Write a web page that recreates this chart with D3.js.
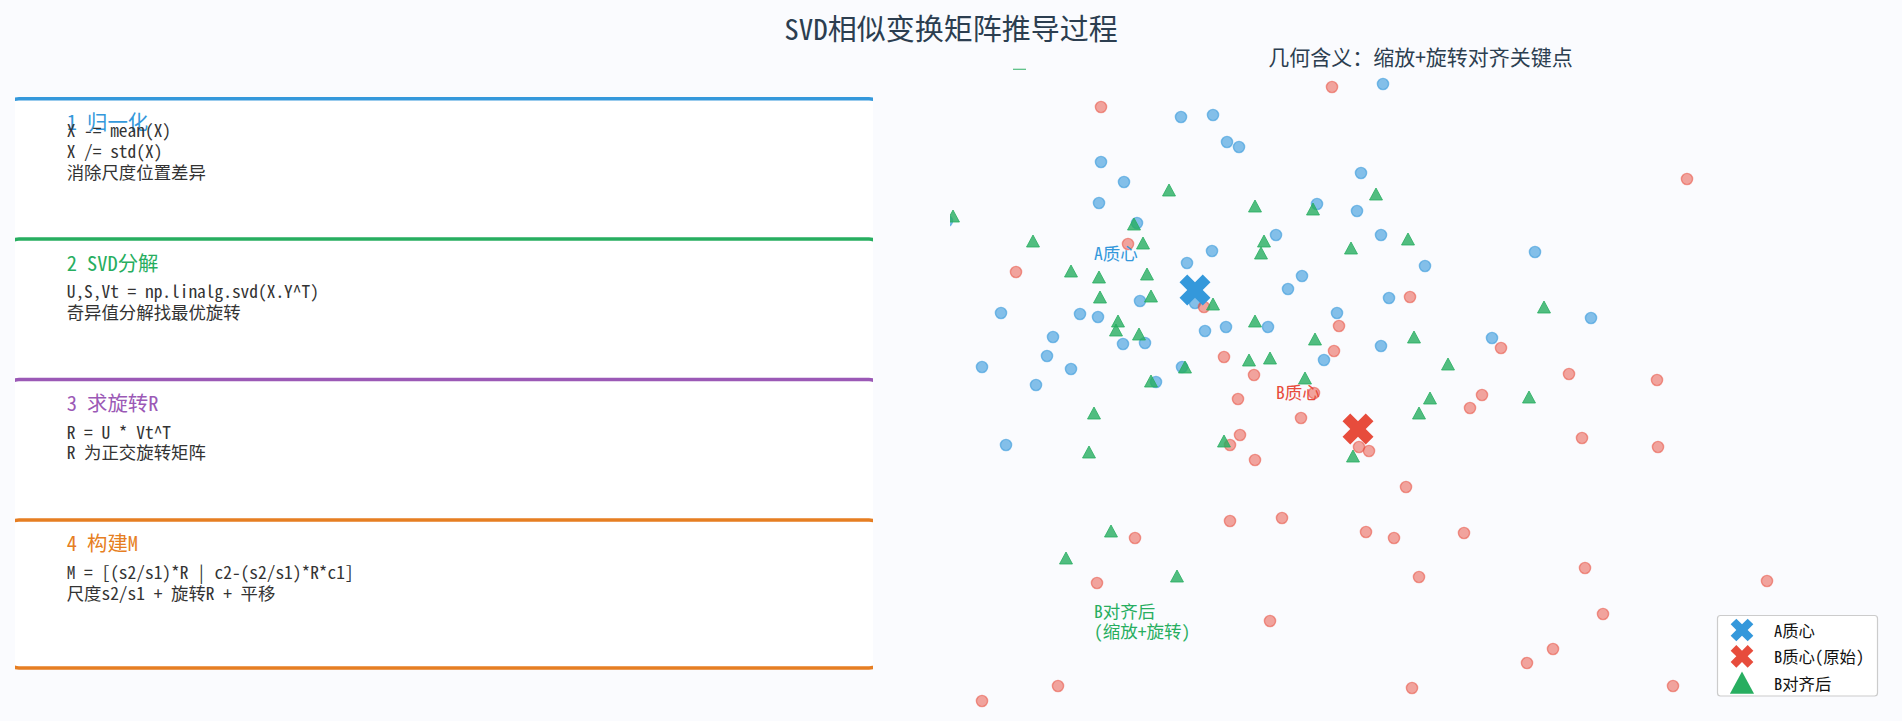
<!DOCTYPE html>
<html><head><meta charset="utf-8">
<script src="https://cdn.jsdelivr.net/npm/d3@7"></script>
<style>
html,body{margin:0;padding:0;background:#fafbfe;}
svg{display:block;}
text{font-family:"Noto Sans Mono CJK SC","Noto Sans CJK SC","DejaVu Sans Mono",monospace;}
</style></head><body>
<svg id="chart" width="1902" height="721"></svg>
<script>
// ---------- data ----------
const chartTitle = "SVD相似变换矩阵推导过程";
const subTitle = "几何含义：缩放+旋转对齐关键点";
const stepTitles = ["1 归一化", "2 SVD分解", "3 求旋转R", "4 构建M"];
const stepColors = ["#3498db", "#27ae60", "#9b59b6", "#e67e22"];
const stepLines = [
  ["X -= mean(X)", "X /= std(X)", "消除尺度位置差异"],
  ["U,S,Vt = np.linalg.svd(X.Y^T)", "奇异值分解找最优旋转"],
  ["R = U * Vt^T", "R 为正交旋转矩阵"],
  ["M = [(s2/s1)*R | c2-(s2/s1)*R*c1]", "尺度s2/s1 + 旋转R + 平移"]
];

const pointsA = [
  [-2.34,2.73],[-2.02,2.75],[-1.88,2.48],[-1.76,2.43],[-3.14,2.28],[-2.91,2.08],[-3.16,1.87],[-2.78,1.67],
  [-4.68,1.69],[-2.03,1.39],[-2.28,1.27],[-2.75,0.89],[-4.14,0.77],[-3.35,0.76],[-3.17,0.73],[-2.10,0.59],
  [-1.89,0.63],[-1.47,0.63],[-3.62,0.53],[-2.92,0.46],[-2.70,0.47],[-3.68,0.34],[-4.33,0.23],[-3.44,0.21],
  [-2.33,0.23],[-3.79,0.05],[-2.59,0.08],[-2.20,0.87],[-0.32,3.06],[-0.54,2.17],[-0.98,1.86],[-0.58,1.79],
  [-1.39,1.55],[-0.34,1.55],[1.20,1.38],[0.10,1.24],[-1.13,1.14],[-1.27,1.01],[-0.26,0.92],[-0.78,0.77],
  [0.77,0.52],[-0.34,0.44],[-0.91,0.30],[1.76,0.72],[-4.09,-0.55]
];
const pointsB = [
  [-3.14,2.83],[-2.87,1.46],[-3.99,1.18],[-2.11,0.83],[-1.91,0.33],[-1.61,0.15],[-0.83,3.03],[-0.05,0.93],
  [-0.76,0.64],[-0.81,0.39],[0.86,0.42],[1.54,0.16],[0.67,-0.05],[-1.01,-0.03],[2.72,2.11],[2.42,0.10],
  [-1.77,-0.09],[-1.75,-0.45],[-1.85,-0.55],[-1.60,-0.70],[-1.85,-1.31],[-2.80,-1.48],[-3.18,-1.93],[-3.57,-2.96],
  [-4.33,-3.11],[-1.45,-2.31],[-1.14,-0.28],[0.55,-0.18],[1.67,-0.48],[-0.56,-0.57],[-0.46,-0.61],[-0.09,-0.97],
  [-1.33,-1.28],[-0.49,-1.42],[-0.21,-1.48],[0.49,-1.43],[0.04,-1.87],[1.70,-1.78],[1.38,-2.59],[1.12,-2.73],
  [-0.03,-2.98],[2.43,-0.57],[3.52,-1.91],[1.88,-2.24],[2.58,-2.96]
];
const pointsBAligned = [
  [-4.62,1.74],[-2.46,2.00],[-1.60,1.84],[-2.81,1.66],[-3.82,1.49],[-2.72,1.47],[-1.51,1.49],[-1.54,1.37],
  [-3.44,1.19],[-3.16,1.13],[-2.68,1.16],[-3.15,0.93],[-2.64,0.94],[-2.02,0.86],[-2.97,0.69],[-2.99,0.60],
  [-2.76,0.56],[-1.60,0.69],[-1.66,0.30],[-2.30,0.23],[-2.64,0.09],[-1.45,0.32],[-0.39,1.96],[-1.02,1.81],
  [-0.07,1.51],[-0.64,1.42],[1.29,0.83],[-1.00,0.51],[-0.01,0.53],[0.33,0.26],[-1.10,0.12],[-3.21,-0.23],
  [-3.26,-0.62],[-1.91,-0.51],[-3.04,-1.41],[-3.49,-1.68],[-2.38,-1.86],[0.15,-0.08],[0.04,-0.23],[1.14,-0.07],
  [-0.62,-0.66]
];
const centroidA = [-2.20, 1.00];
const centroidB = [-0.57, -0.39];
const annotations = [
  {text: ["A质心"], pos: [-3.21, 1.38], color: "#3498db"},
  {text: ["B质心"], pos: [-1.39, -0.01], color: "#e74c3c"},
  {text: ["B对齐后", "(缩放+旋转)"], pos: [-3.21, -2.20], color: "#27ae60"}
];
const legendLabels = ["A质心", "B质心(原始)", "B对齐后"];

// ---------- setup ----------
const svg = d3.select("#chart");
const W = 1902, H = 721;
const defs = svg.append("defs");

svg.append("rect").attr("width", W).attr("height", H).attr("fill", "#fafbfe");

svg.append("text").attr("x", W / 2).attr("y", 27).attr("text-anchor", "middle")
  .attr("dominant-baseline", "central").attr("font-size", 29).attr("fill", "#2c3e50").text(chartTitle);

// ---------- left panel ----------
defs.append("clipPath").attr("id", "leftClip").append("rect")
  .attr("x", 15).attr("y", 0).attr("width", 858).attr("height", H);
const stepY = d3.scaleLinear().domain([0, 4]).range([98.7, 660.3]);
const left = svg.append("g").attr("clip-path", "url(#leftClip)");
stepTitles.forEach((t, i) => {
  const top = stepY(i);
  const g = left.append("g");
  g.append("rect").attr("x", 5).attr("y", top).attr("width", 878).attr("height", 148)
    .attr("rx", 14).attr("ry", 14).attr("fill", "#ffffff")
    .attr("stroke", stepColors[i]).attr("stroke-width", 3.5);
  g.append("text").attr("x", 66.7).attr("y", top + 22.5).attr("dominant-baseline", "central")
    .attr("font-size", 20.4).attr("fill", stepColors[i]).text(t);
  const lines = stepLines[i];
  lines.forEach((ln, j) => {
    g.append("text").attr("x", 66.7)
      .attr("y", top + 72.4 - (lines.length - 1 - j) * 20.6)
      .attr("dominant-baseline", "central").attr("font-size", 17.4)
      .attr("fill", "#333333").text(ln);
  });
});

// ---------- scatter ----------
const x = d3.scaleLinear().domain([-4.65, 4.73]).range([950, 1888]);
const y = d3.scaleLinear().domain([-3.22, 3.2]).range([712, 70]);

svg.append("text").attr("x", 1420.5).attr("y", 56).attr("text-anchor", "middle")
  .attr("dominant-baseline", "central").attr("font-size", 21).attr("fill", "#2c3e50").text(subTitle);

defs.append("clipPath").attr("id", "plotClip").append("rect")
  .attr("x", x.range()[0]).attr("y", y.range()[1])
  .attr("width", x.range()[1] - x.range()[0]).attr("height", y.range()[0] - y.range()[1]);

// small stray marker line at top
svg.append("line").attr("x1", x(-4.02)).attr("x2", x(-3.89)).attr("y1", y(3.207)).attr("y2", y(3.207))
  .attr("stroke", "#27ae60").attr("stroke-width", 1.2).attr("opacity", 0.8);

const plot = svg.append("g").attr("clip-path", "url(#plotClip)");

// bbox-centred up triangle (like matplotlib '^')
const triBBox = {
  draw(ctx, size) {
    const s = Math.sqrt(size);
    const w = s * 0.54, h = s * 0.5;
    ctx.moveTo(0, -h);
    ctx.lineTo(w, h);
    ctx.lineTo(-w, h);
    ctx.closePath();
  }
};

plot.append("g").selectAll("circle").data(pointsA).join("circle")
  .attr("cx", d => x(d[0])).attr("cy", d => y(d[1])).attr("r", 5.6)
  .attr("fill", "#3498db").attr("fill-opacity", 0.6)
  .attr("stroke", "#3498db").attr("stroke-opacity", 0.6).attr("stroke-width", 1.4);

plot.append("g").selectAll("circle").data(pointsB).join("circle")
  .attr("cx", d => x(d[0])).attr("cy", d => y(d[1])).attr("r", 5.6)
  .attr("fill", "#e74c3c").attr("fill-opacity", 0.5)
  .attr("stroke", "#e74c3c").attr("stroke-opacity", 0.55).attr("stroke-width", 1.4);

plot.append("g").selectAll("path").data(pointsBAligned).join("path")
  .attr("d", d3.symbol().type(triBBox).size(144))
  .attr("transform", d => `translate(${x(d[0])},${y(d[1])})`)
  .attr("fill", "#27ae60").attr("fill-opacity", 0.8)
  .attr("stroke", "#27ae60").attr("stroke-opacity", 0.8).attr("stroke-width", 1);

const crossSym = d3.symbol().type(d3.symbolCross);
plot.append("path").attr("d", crossSym.size(600)())
  .attr("transform", `translate(${x(centroidA[0])},${y(centroidA[1])}) rotate(45)`)
  .attr("fill", "#3498db");
plot.append("path").attr("d", crossSym.size(600)())
  .attr("transform", `translate(${x(centroidB[0])},${y(centroidB[1])}) rotate(45)`)
  .attr("fill", "#e74c3c");

annotations.forEach(a => {
  a.text.forEach((t, k) => {
    plot.append("text").attr("x", x(a.pos[0])).attr("y", y(a.pos[1]) + k * 20)
      .attr("dominant-baseline", "central").attr("font-size", 17.5)
      .attr("fill", a.color).text(t);
  });
});

// ---------- legend ----------
const lg = svg.append("g");
lg.append("rect").attr("x", 1717.5).attr("y", 615.5).attr("width", 160).attr("height", 80.5)
  .attr("rx", 3).attr("fill", "#ffffff").attr("fill-opacity", 0.85)
  .attr("stroke", "#cccccc").attr("stroke-width", 1.2);
const legendColors = ["#3498db", "#e74c3c", "#27ae60"];
legendLabels.forEach((lab, i) => {
  const cy = 630 + i * 26.3;
  if (i < 2) {
    lg.append("path").attr("d", crossSym.size(322)())
      .attr("transform", `translate(1742,${cy}) rotate(45)`).attr("fill", legendColors[i]);
  } else {
    lg.append("path").attr("d", d3.symbol().type(triBBox).size(500)())
      .attr("transform", `translate(1742,${cy})`).attr("fill", legendColors[i]);
  }
  lg.append("text").attr("x", 1774).attr("y", cy).attr("dominant-baseline", "central")
    .attr("font-size", 16.4).attr("fill", "#111111").text(lab);
});
</script>
</body></html>
